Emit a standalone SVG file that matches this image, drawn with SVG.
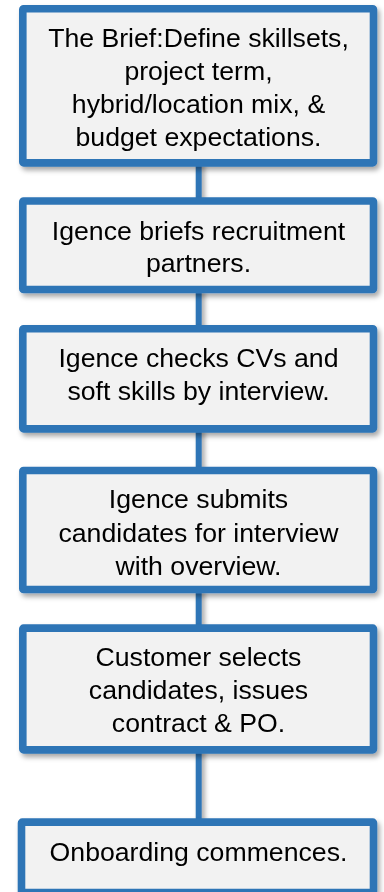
<svg xmlns="http://www.w3.org/2000/svg" width="384" height="892" viewBox="0 0 384 892">
  <defs>
    <filter id="sh" x="-10%" y="-10%" width="130%" height="140%">
      <feDropShadow dx="2.5" dy="3.5" stdDeviation="2.5" flood-color="#000" flood-opacity="0.35"/>
    </filter>
    <filter id="shc" filterUnits="userSpaceOnUse" x="0" y="0" width="384" height="892">
      <feDropShadow dx="3" dy="3" stdDeviation="2.5" flood-color="#000" flood-opacity="0.35"/>
    </filter>
  </defs>
  <style>
    .box { fill: #F2F2F2; stroke: #2E75B6; stroke-width: 7.6; }
    .conn { stroke: #2E75B6; stroke-width: 6; fill: none; }
    text { font-family: "Liberation Sans", Arial, sans-serif; font-size: 26.67px; fill: #000; text-anchor: middle; }
  </style>
  <rect width="384" height="892" fill="#fff"/>
  <g id="connectors" filter="url(#shc)">
    <line class="conn" x1="198.7" y1="160" x2="198.7" y2="205"/>
    <line class="conn" x1="198.7" y1="288" x2="198.7" y2="332"/>
    <line class="conn" x1="198.7" y1="428" x2="198.7" y2="474"/>
    <line class="conn" x1="198.7" y1="588" x2="198.7" y2="632"/>
    <line class="conn" x1="198.7" y1="748" x2="198.7" y2="826"/>
  </g>
  <g id="node1" filter="url(#sh)">
    <rect class="box" x="22.8" y="8.8" width="350.7" height="154.1" rx="0.8"/>
    <text x="198.5" y="46.7">The Brief:Define skillsets,</text>
    <text x="198.5" y="79.7">project term,</text>
    <text x="198.5" y="112.7">hybrid/location mix, &amp;</text>
    <text x="198.5" y="145.7">budget expectations.</text>
  </g>
  <g id="node2" filter="url(#sh)">
    <rect class="box" x="22.8" y="201" width="350.7" height="88.5" rx="0.8"/>
    <text x="198.5" y="240">Igence briefs recruitment</text>
    <text x="198.5" y="272">partners.</text>
  </g>
  <g id="node3" filter="url(#sh)">
    <rect class="box" x="22.8" y="328.8" width="350.7" height="100.1" rx="0.8"/>
    <text x="198.5" y="366.7">Igence checks CVs and</text>
    <text x="198.5" y="400">soft skills by interview.</text>
  </g>
  <g id="node4" filter="url(#sh)">
    <rect class="box" x="22.8" y="470.5" width="350.7" height="119" rx="0.8"/>
    <text x="198.5" y="508.3">Igence submits</text>
    <text x="198.5" y="541.7">candidates for interview</text>
    <text x="198.5" y="575">with overview.</text>
  </g>
  <g id="node5" filter="url(#sh)">
    <rect class="box" x="22.8" y="628.1" width="350.7" height="121.8" rx="0.8"/>
    <text x="198.5" y="665.7">Customer selects</text>
    <text x="198.5" y="698.7">candidates, issues</text>
    <text x="198.5" y="731.5">contract &amp; PO.</text>
  </g>
  <g id="node6" filter="url(#sh)">
    <rect class="box" x="21.5" y="822.1" width="352" height="70.4" rx="0.8"/>
    <text x="198.5" y="861.3">Onboarding commences.</text>
  </g>
</svg>
